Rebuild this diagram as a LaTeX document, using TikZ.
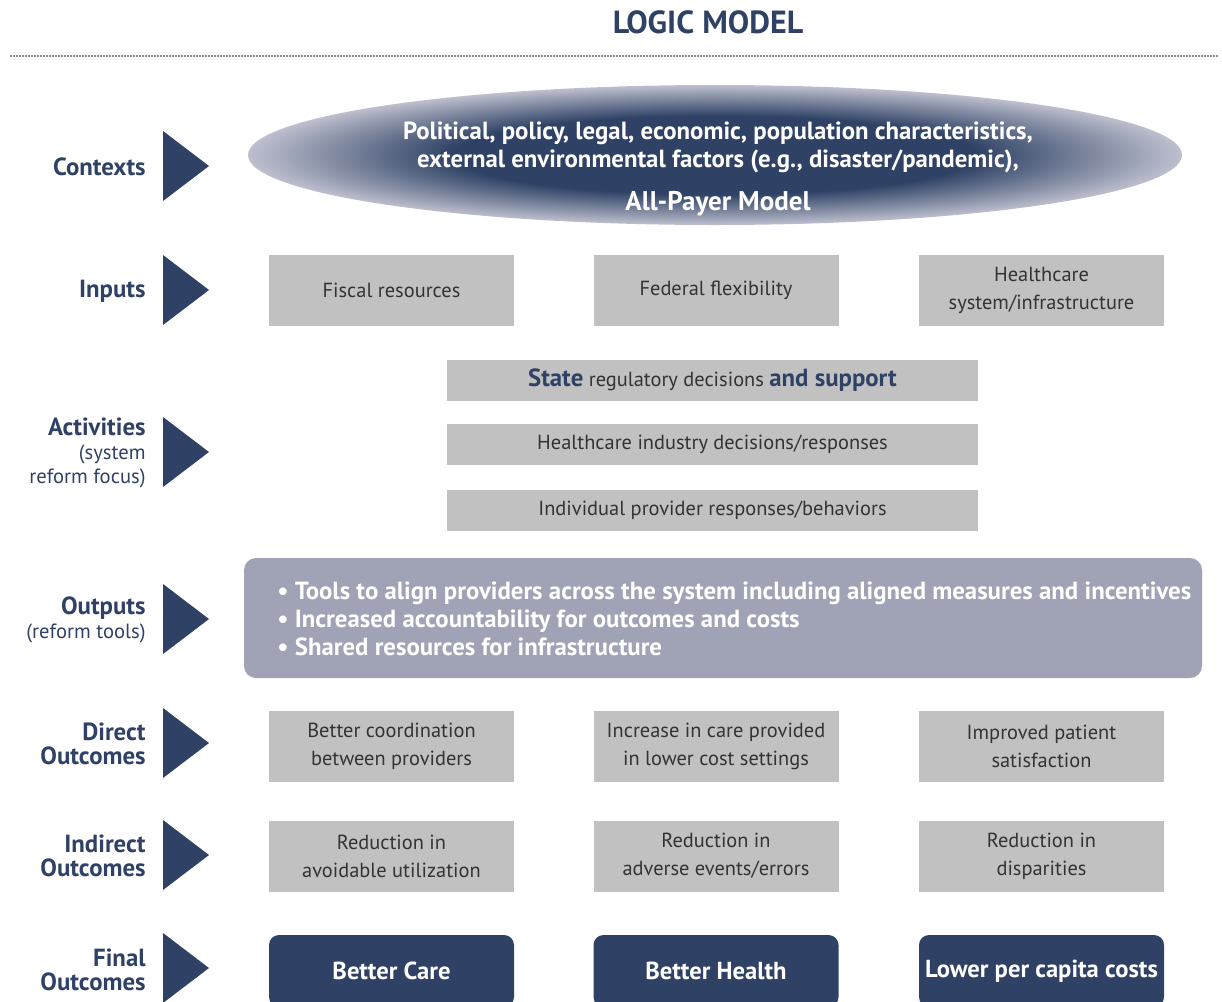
\documentclass[tikz,border=0pt]{standalone}
\usepackage{fontspec}
\setmainfont{PT Sans}
\usepackage{tikz}

\definecolor{lmnavy}{HTML}{2F4265}
\definecolor{lmgray}{HTML}{C1C1C1}
\definecolor{lmlav}{HTML}{A0A2B5}
\definecolor{lmpale}{HTML}{BDBFCE}
\definecolor{lmtext}{HTML}{333333}

\pgfdeclareradialshading{ctxshade}{\pgfpoint{0bp}{0bp}}{color(0bp)=(lmnavy); color(14bp)=(lmnavy); color(25bp)=(lmpale); color(50bp)=(lmpale)}

\newcommand{\sublabel}{\mdseries\fontsize{10.3}{12}\selectfont}
\newcommand{\keyword}[1]{\textcolor{lmnavy}{\bfseries\fontsize{12.4}{14}\selectfont #1}}

\tikzset{
  rowlabel/.style={anchor=east, align=right, inner sep=0pt, text=lmnavy, font=\bfseries\fontsize{12.4}{12}\selectfont},
  graybox/.style={fill=lmgray, inner sep=0pt, minimum width=122.5pt, minimum height=35.5pt, align=center, text=lmtext, font=\fontsize{10.2}{14}\selectfont},
  actbox/.style={graybox, minimum width=265.5pt, minimum height=20.5pt},
  finalbox/.style={fill=lmnavy, rounded corners=5pt, inner sep=0pt, minimum width=122.5pt, minimum height=36pt, text=white, font=\bfseries\fontsize{12.3}{14}\selectfont},
}

\begin{document}
\begin{tikzpicture}[x=0.5pt, y=-0.5pt]
  \useasboundingbox (0,0) rectangle (1222,1002);

  % title and rule
  \node[text=lmnavy, font=\bfseries\fontsize{16}{18}\selectfont] (title) at (708,22) {LOGIC MODEL};
  \draw[gray!90, line width=1pt, dash pattern=on 0.8pt off 0.7pt] (10,56) -- (1218,56);

  % row markers
  \foreach \y in {166,290,452,619,743,855,968}
    \fill[lmnavy] (163,\y-35) -- (209,\y) -- (163,\y+35) -- cycle;

  % row labels
  \node[rowlabel] (lab-ctx) at (146,167) {Contexts};
  \node[rowlabel] (lab-in) at (146,291) {Inputs};
  \node[rowlabel] (lab-act) at (146,453) {Activities\\\sublabel(system\\\sublabel reform focus)};
  \node[rowlabel] (lab-out) at (146,620) {Outputs\\\sublabel(reform tools)};
  \node[rowlabel] (lab-dir) at (146,744) {Direct\\Outcomes};
  \node[rowlabel] (lab-ind) at (146,856) {Indirect\\Outcomes};
  \node[rowlabel] (lab-fin) at (146,970) {Final\\Outcomes};

  % contexts
  \shade[shading=ctxshade] (715,155) ellipse (467 and 70);
  \node[align=center, text=white, font=\bfseries\fontsize{12.4}{14}\selectfont] (ctx-text) at (718,147)
    {Political, policy, legal, economic, population characteristics,\\external environmental factors (e.g., disaster/pandemic),};
  \node[text=white, font=\bfseries\fontsize{13.5}{14}\selectfont] (ctx-apm) at (718,204) {All-Payer Model};

  % inputs
  \node[graybox] (in-fiscal) at (391.5,290) {Fiscal resources};
  \node[graybox] (in-federal) at (716,290) {Federal flexibility};
  \node[graybox] (in-system) at (1041.5,290) {Healthcare\\system/infrastructure};

  % activities
  \node[actbox] (act-state) at (712.5,380) {\keyword{State} regulatory decisions \keyword{and support}};
  \node[actbox] (act-industry) at (712.5,444.5) {Healthcare industry decisions/responses};
  \node[actbox] (act-provider) at (712.5,510.5) {Individual provider responses/behaviors};

  % outputs
  \node[fill=lmlav, rounded corners=6pt, minimum width=479pt, minimum height=60pt] (out) at (723,618) {};
  \node[anchor=west, align=left, inner sep=0pt, text=white, font=\bfseries\fontsize{12.4}{14}\selectfont] (out-text) at (277,619)
    {\textbullet\ Tools to align providers across the system including aligned measures and incentives\\
     \textbullet\ Increased accountability for outcomes and costs\\
     \textbullet\ Shared resources for infrastructure};

  % direct outcomes
  \node[graybox] (dir-coord) at (391.5,746) {Better coordination\\between providers};
  \node[graybox] (dir-care) at (716,746) {Increase in care provided\\in lower cost settings};
  \node[graybox] (dir-sat) at (1041.5,746) {Improved patient\\satisfaction};

  % indirect outcomes
  \node[graybox] (ind-util) at (391.5,856) {Reduction in\\avoidable utilization};
  \node[graybox] (ind-err) at (716,856) {Reduction in\\adverse events/errors};
  \node[graybox] (ind-disp) at (1041.5,856) {Reduction in\\disparities};

  % final outcomes
  \node[finalbox] (fin-care) at (391.5,971) {Better Care};
  \node[finalbox] (fin-health) at (716,971) {Better Health};
  \node[finalbox] (fin-cost) at (1041.5,971) {Lower per capita costs};
\end{tikzpicture}
\end{document}
